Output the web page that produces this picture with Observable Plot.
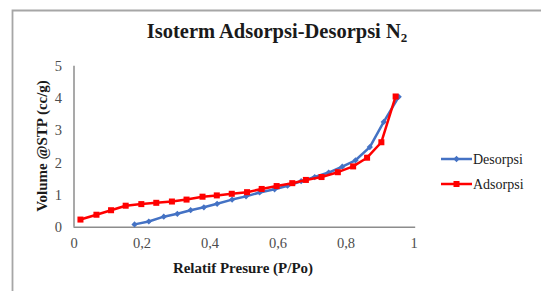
<!DOCTYPE html>
<html>
<head>
<meta charset="utf-8">
<script src="https://cdn.jsdelivr.net/npm/d3@7"></script>
<script src="https://cdn.jsdelivr.net/npm/@observablehq/plot@0.6"></script>
<style>
  html, body { margin: 0; padding: 0; background: #fff; }
  #chart { position: relative; width: 541px; height: 291px; overflow: hidden; }
  #chart svg, #chart svg text { font-family: "Liberation Serif", "Times New Roman", serif !important; }
</style>
</head>
<body>
<div id="chart"></div>
<script>
// ---- data ----
const seriesNames = ["Desorpsi", "Adsorpsi"];
const seriesColors = ["#4472C4", "#FF0000"];

const pressureDes = [0.178, 0.220, 0.264, 0.304, 0.343, 0.382, 0.421, 0.465, 0.506, 0.546,
                     0.590, 0.628, 0.668, 0.708, 0.749, 0.789, 0.828, 0.870, 0.911, 0.955];
const volumeDes   = [0.09, 0.18, 0.33, 0.42, 0.53, 0.62, 0.73, 0.86, 0.96, 1.08,
                     1.18, 1.29, 1.43, 1.56, 1.70, 1.88, 2.08, 2.49, 3.27, 4.05];

const pressureAds = [0.019, 0.066, 0.109, 0.152, 0.198, 0.242, 0.288, 0.331, 0.378, 0.420, 0.464,
                     0.509, 0.552, 0.596, 0.642, 0.682, 0.728, 0.776, 0.821, 0.862, 0.904, 0.946];
const volumeAds   = [0.24, 0.39, 0.53, 0.67, 0.72, 0.76, 0.80, 0.86, 0.95, 0.99, 1.04,
                     1.09, 1.19, 1.28, 1.37, 1.47, 1.56, 1.71, 1.89, 2.16, 2.64, 4.06];

const xTicks = [0, 0.2, 0.4, 0.6, 0.8, 1];
const yTicks = [0, 1, 2, 3, 4, 5];

const titleText = "Isoterm Adsorpsi-Desorpsi N";
const titleSub = "2";
const xLabel = "Relatif Presure (P/Po)";
const yLabel = "Volume @STP (cc/g)";

// ---- tables ----
const des = pressureDes.map((p, i) => ({p, v: volumeDes[i]}));
const ads = pressureAds.map((p, i) => ({p, v: volumeAds[i]}));

const fmt = d => String(d).replace(".", ",");

const plot = Plot.plot({
  width: 541,
  height: 291,
  marginLeft: 73.5,
  marginRight: 127.5,
  marginTop: 65.7,
  marginBottom: 64.2,
  style: {fontFamily: "Liberation Serif, serif", fontSize: "14.5px", color: "#4d4d4d", background: "#fff", overflow: "visible"},
  x: {domain: [0, 1]},
  y: {domain: [0, 5]},
  marks: [
    Plot.axisX({ticks: xTicks, tickSize: 0, tickPadding: 10, tickFormat: fmt, label: null}),
    Plot.axisY({ticks: yTicks, tickSize: 0, tickPadding: 12, tickFormat: fmt, label: null}),
    Plot.ruleY([0], {stroke: "#8c8c8c", strokeWidth: 1.5, x1: 0, x2: 1.005}),
    Plot.ruleX([0], {stroke: "#8c8c8c", strokeWidth: 1.5}),
    Plot.line(des, {x: "p", y: "v", stroke: seriesColors[0], strokeWidth: 2.5}),
    Plot.dot(des, {x: "p", y: "v", symbol: "diamond2", r: 2.8, fill: seriesColors[0], stroke: null}),
    Plot.line(ads, {x: "p", y: "v", stroke: seriesColors[1], strokeWidth: 2.5}),
    Plot.dot(ads, {x: "p", y: "v", symbol: "square", r: 3.4, fill: seriesColors[1], stroke: null})
  ]
});

document.getElementById("chart").appendChild(plot);

const svg = d3.select(plot);

// outer frame (top and left edges visible)
svg.append("path")
  .attr("d", "M12.5,300 V10.5 H560")
  .attr("fill", "none")
  .attr("stroke", "#a6a6a6")
  .attr("stroke-width", 1.8);

// title
const t = svg.append("text")
  .attr("x", 277)
  .attr("y", 38)
  .attr("text-anchor", "middle")
  .attr("font-weight", "bold")
  .attr("font-size", 20.5)
  .attr("fill", "#1a1a1a");
t.append("tspan").text(titleText);
t.append("tspan").attr("font-size", 13).attr("dy", 4).text(titleSub);

// x label
svg.append("text")
  .attr("x", 243)
  .attr("y", 273)
  .attr("text-anchor", "middle")
  .attr("font-weight", "bold")
  .attr("font-size", 15)
  .attr("fill", "#1a1a1a")
  .text(xLabel);

// y label
svg.append("text")
  .attr("transform", "translate(47,146) rotate(-90)")
  .attr("text-anchor", "middle")
  .attr("font-weight", "bold")
  .attr("font-size", 15)
  .attr("fill", "#1a1a1a")
  .text(yLabel);

// legend
const legY = [159, 184];
const symbols = [d3.symbol(d3.symbolDiamond2, 25), d3.symbol(d3.symbolSquare, 36)];
seriesNames.forEach((name, i) => {
  const g = svg.append("g").attr("transform", `translate(0,${legY[i]})`);
  g.append("line").attr("x1", 441).attr("x2", 472).attr("y1", 0).attr("y2", 0)
    .attr("stroke", seriesColors[i]).attr("stroke-width", 2.5);
  g.append("path").attr("transform", "translate(456.5,0)").attr("d", symbols[i]())
    .attr("fill", seriesColors[i]);
  g.append("text").attr("x", 473).attr("y", 0).attr("dy", "0.35em")
    .attr("text-anchor", "start")
    .attr("font-size", 14).attr("fill", "#1a1a1a")
    .text(name);
});
</script>
</body>
</html>
